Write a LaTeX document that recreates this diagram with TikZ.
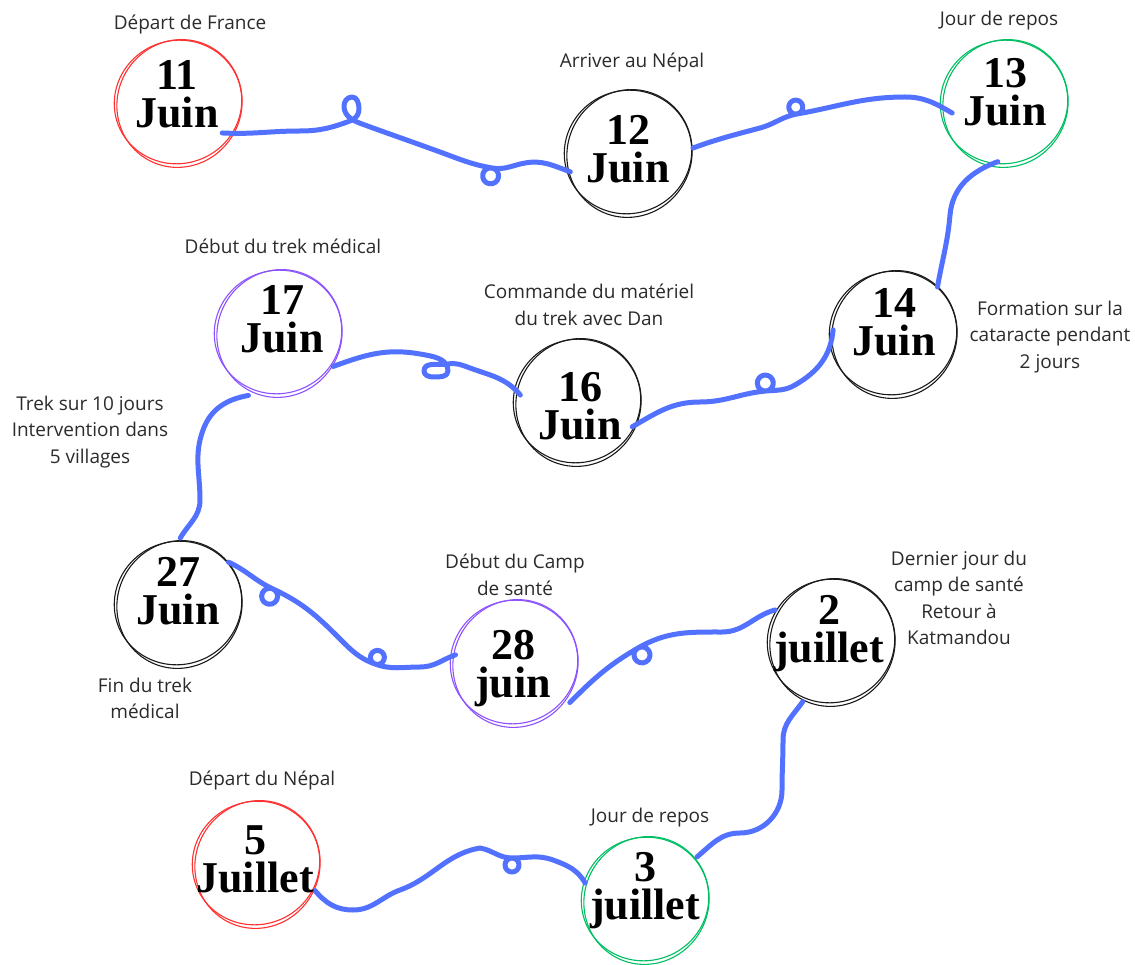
\documentclass[tikz,border=0pt]{standalone}
\usepackage{fontspec}
\setmainfont{Open Sans}
\newfontfamily\datefont{Liberation Serif}
\definecolor{cblue}{HTML}{5271FF}
\definecolor{cred}{HTML}{FF3131}
\definecolor{cgreen}{HTML}{00BF63}
\definecolor{cpurple}{HTML}{8C52FF}
\definecolor{cblack}{HTML}{1A1A1A}
\definecolor{ctext}{HTML}{2B2B2B}
% small curl tangent to the line: #1 heading, #2 side sign, #3 opposite sign, #4 r*sqrt(2)
\newcommand\lp[4]{to[out=#1,in=#1#290+180] ++(#1#245:#4) to[out=#1#290,in=#1] ++(#1#2135:#4) to[out=#1+180,in=#1#290] ++(#1#2225:#4) to[out=#1#390,in=#1+180] ++(#1#345:#4)}
\newcommand\sk[2]{%
  \draw[#2,sketch] (#1.center) ellipse [x radius=64,y radius=61.5,rotate=20];
  \draw[#2,sketch] ([shift={(1.5,-1.5)}]#1.center) ellipse [x radius=62,y radius=64.5,rotate=-30];}
\begin{document}
\begin{tikzpicture}[x=1pt,y=1pt,
  ring/.style={circle,minimum size=128pt,inner sep=0pt},
  sketch/.style={line width=1.1pt},
  conn/.style={draw=cblue,line width=5pt,line cap=round,line join=round},
  dt/.style={font=\fontsize{44}{38}\selectfont\datefont\bfseries,align=center,inner sep=0pt,text=black},
  lbl/.style={font=\fontsize{19}{26.5}\selectfont,text=ctext,align=center,inner sep=0pt}]
\fill[white] (0,0) rectangle (1135,-965);
\useasboundingbox (0,0) rectangle (1135,-965);
% circle nodes
\node[ring] (n11) at (178,-102) {};
\node[ring] (n12) at (628,-152) {};
\node[ring] (n13) at (1004,-102) {};
\node[ring] (n14) at (893,-333) {};
\node[ring] (n16) at (577,-401) {};
\node[ring] (n17) at (278,-332) {};
\node[ring] (n27) at (178,-603) {};
\node[ring] (n28) at (514,-662) {};
\node[ring] (n2) at (831,-641) {};
\node[ring] (n3) at (645,-899) {};
\node[ring] (n5) at (256,-863) {};
% sketchy rings
\sk{n11}{cred}
\sk{n12}{cblack}
\sk{n13}{cgreen}
\sk{n14}{cblack}
\sk{n16}{cblack}
\sk{n17}{cpurple}
\sk{n27}{cblack}
\sk{n28}{cpurple}
\sk{n2}{cblack}
\sk{n3}{cgreen}
\sk{n5}{cred}
% connectors
\draw[conn] ([shift={(-35:54)}]n11.center) to[out=-3,in=180] (300,-131) to[out=0,in=200] (350,-121)
  to[out=20,in=-85] (359,-108) to[out=95,in=0] (352,-97) to[out=180,in=95] (344,-107) to[out=-85,in=160] (362,-124)
  to[out=-20,in=160] (440,-152) to[out=-20,in=170] (492,-168) \lp{-10}{-}{+}{11.3} to[out=-10,in=190] (525,-163) to[out=10,in=160] ([shift={(199:61)}]n12.center);
\draw[conn] ([shift={(3.5:65)}]n12.center) to[out=20,in=195] (760,-128) to[out=15,in=190] (797,-114) \lp{10}{+}{-}{9.9} to[out=10,in=180] (905,-97) to[out=0,in=150] ([shift={(192:53)}]n13.center);
\draw[conn] ([shift={(264:60)}]n13.center) to[out=200,in=85] (950,-215) to[out=-95,in=80] ([shift={(46:64)}]n14.center);
\draw[conn] ([shift={(177:60)}]n14.center) to[out=-95,in=30] (795,-385) to[out=210,in=5] (766,-391) \lp{185}{-}{+}{11.3} to[out=185,in=0] (700,-402) to[out=180,in=30] ([shift={(-25:61)}]n16.center);
\draw[conn] ([shift={(174:57)}]n16.center) to[out=130,in=-20] (470,-368) to[out=160,in=10] (448,-364)
  to[out=190,in=90] (424,-371) to[out=-90,in=180] (433,-377) to[out=0,in=-90] (448,-371) to[out=90,in=-10] (420,-354)
  to[out=170,in=20] ([shift={(-32:65)}]n17.center);
\draw[conn] ([shift={(245:70)}]n17.center) to[out=190,in=70] (203,-430) to[out=-110,in=90] (200,-500) to[out=-90,in=60] ([shift={(88:65)}]n27.center);
\draw[conn] ([shift={(39:65)}]n27.center) to[out=-25,in=155] (273,-589) \lp{-25}{-}{+}{11.3} to[out=-25,in=135] (338,-637) to[out=-45,in=160] (375,-664) \lp{-20}{+}{-}{9.9} to[out=-20,in=180] (420,-667) to[out=0,in=200] ([shift={(173:59)}]n28.center);
\draw[conn] ([shift={(-36:69)}]n28.center) to[out=45,in=210] (638,-648) \lp{30}{-}{+}{11.3} to[out=30,in=180] (722,-632) to[out=0,in=195] ([shift={(151:64)}]n2.center);
\draw[conn] ([shift={(245:67)}]n2.center) to[out=235,in=90] (783,-740) to[out=-90,in=90] (782,-790) to[out=-90,in=0] (740,-833) to[out=180,in=40] ([shift={(39:67)}]n3.center);
\draw[conn] ([shift={(165:62)}]n3.center) to[out=120,in=-20] (553,-860) to[out=160,in=0] (512,-858) \lp{180}{+}{-}{9.9} to[out=180,in=-10] (480,-848) to[out=190,in=20] (400,-890) to[out=200,in=0] (353,-910) to[out=180,in=-50] ([shift={(-25:65)}]n5.center);
% dates
\node[dt] (d11) at (177,-94.5) {11\\Juin};
\node[dt] (d12) at (628,-149.5) {12\\Juin};
\node[dt] (d13) at (1005,-92.5) {13\\Juin};
\node[dt] (d14) at (894,-322.5) {14\\Juin};
\node[dt] (d16) at (580,-406.5) {16\\Juin};
\node[dt] (d17) at (282,-319.5) {17\\Juin};
\node[dt] (d27) at (178,-591.5) {27\\Juin};
\node[dt] (d28) at (513,-669) {28\\juin};
\node[dt] (d2) at (829,-634) {2\\juillet};
\node[dt] (d3) at (645,-891) {3\\juillet};
\node[dt] (d5) at (255,-859.5) {5\\Juillet};
% labels
\node[lbl] (l11) at (190,-25) {Départ de France};
\node[lbl] (l12) at (632,-63) {Arriver au Népal};
\node[lbl] (l13) at (999,-21) {Jour de repos};
\node[lbl] (l14) at (1050,-337) {Formation sur la\\cataracte pendant\\2 jours};
\node[lbl] (l16) at (589,-305) {Commande du matériel\\du trek avec Dan};
\node[lbl] (l17) at (283,-246) {Début du trek médical};
\node[lbl] (lt) at (90,-432) {Trek sur 10 jours\\Intervention dans\\5 villages};
\node[lbl] (l27) at (145,-698.5) {Fin du trek\\médical};
\node[lbl] (l28) at (515,-575) {Début du Camp\\de santé};
\node[lbl] (l2) at (959,-598) {Dernier jour du\\camp de santé\\Retour à\\Katmandou};
\node[lbl] (l5) at (262,-780) {Départ du Népal};
\node[lbl] (l3) at (650,-818) {Jour de repos};
\end{tikzpicture}
\end{document}
